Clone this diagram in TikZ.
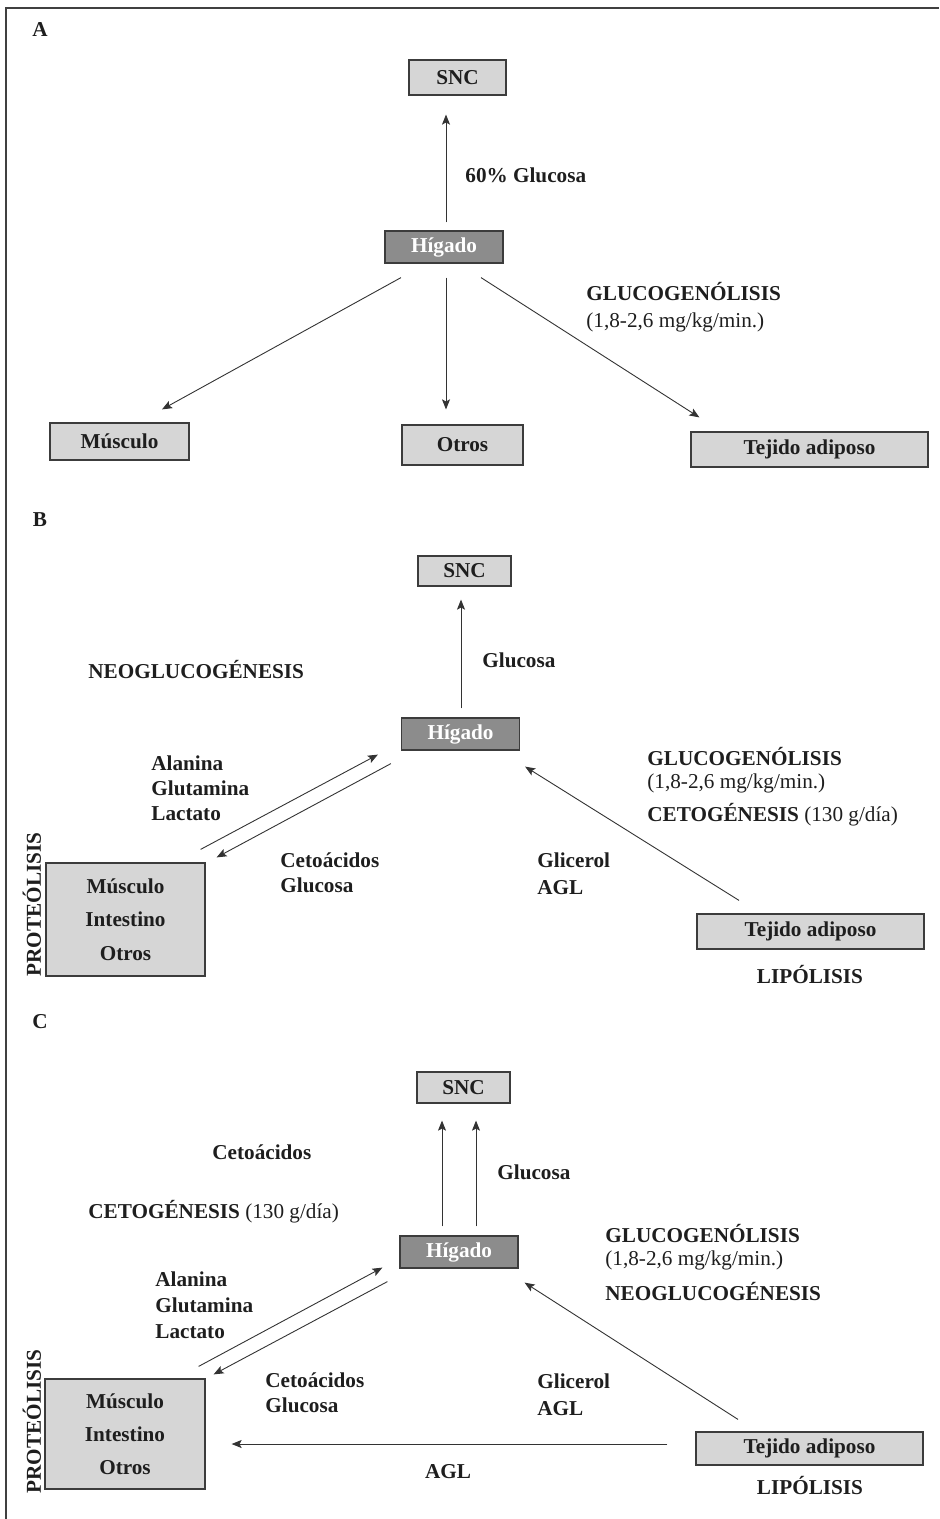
\documentclass[tikz,border=0pt]{standalone}
\usepackage{fontspec}
\setmainfont{Liberation Serif}
\usepackage{tikz}
\usetikzlibrary{calc, arrows.meta, positioning}

\definecolor{boxgray}{HTML}{D6D6D6}
\definecolor{livergray}{HTML}{8C8C8C}
\definecolor{edgegray}{HTML}{3C3C3C}
\definecolor{inkgray}{HTML}{1E1E1E}

\begin{document}
\begin{tikzpicture}[x=0.5pt, y=-0.5pt, font=\fontsize{10.6}{12.5}\selectfont\bfseries, text=inkgray]
% Define styles
\tikzstyle{organ} = [rectangle, draw=edgegray, line width=0.6pt, fill=boxgray, align=center, inner sep=0pt]
\tikzstyle{liver} = [rectangle, draw=edgegray, line width=0.6pt, fill=livergray, text=white, inner sep=0pt, minimum width=59pt, minimum height=16pt]
\tikzstyle{arrow} = [->, >={Stealth[length=5pt,width=4pt,inset=1pt]}, line width=0.45pt, draw=black!80]
\tikzstyle{txt} = [anchor=west, inner sep=0pt, align=left]
\tikzstyle{panel} = [inner sep=0pt]
\useasboundingbox (0,0) rectangle (939,1519);
\draw[line width=1pt, draw=black!75] (6,1519) -- (6,8) -- (939,8);

% Panel A
\node (pA) [panel] at (40,30) {A};
\node (snA) [organ, minimum width=48.5pt, minimum height=17.5pt] at (457.5,77.5) {SNC};
\node (higA) [liver] at (444,247) {Hígado};
\node (musA) [organ, minimum width=69.5pt, minimum height=18.5pt] at (119.5,441.5) {Músculo};
\node (otrA) [organ, minimum width=60.5pt, minimum height=20pt] at (462.5,445) {Otros};
\node (tejA) [organ, minimum width=118.5pt, minimum height=17.5pt] at (809.5,449.5) {Tejido adiposo};
\node (glA) [txt] at (465,175) {60\% Glucosa};
\node (gnA) [txt] at (586,292) {GLUCOGENÓLISIS};
\node (rtA) [txt] at (586,322) {\mdseries (1,8-2,6 mg/kg/min.)};

% Panel B
\node (pB) [panel] at (40,520) {B};
\node (snB) [organ, minimum width=46.5pt, minimum height=15pt] at (464.5,571) {SNC};
\node (higB) [liver] at (460.5,734) {Hígado};
\node (musB) [organ, minimum width=79.5pt, minimum height=56.5pt, font=\fontsize{10.6}{16.75}\selectfont\bfseries] at (125.5,919.5) {Músculo\\Intestino\\Otros};
\node (tejB) [organ, minimum width=113.5pt, minimum height=17.5pt] at (810.5,931.5) {Tejido adiposo};
\node (proB) [panel, rotate=90] at (32,904.5) {PROTEÓLISIS};
\node (neoB) [txt] at (88,670) {NEOGLUCOGÉNESIS};
\node (glB) [txt] at (482,660) {Glucosa};
\node (aaB) [txt] at (151,788) {Alanina\\Glutamina\\Lactato};
\node (ceB) [txt] at (280,872.5) {Cetoácidos\\Glucosa};
\node (giB) [txt, font=\fontsize{10.6}{13.5}\selectfont\bfseries] at (537,873.5) {Glicerol\\AGL};
\node (gnB) [txt] at (647,757) {GLUCOGENÓLISIS};
\node (rtB) [txt] at (647,783) {\mdseries (1,8-2,6 mg/kg/min.)};
\node (ctB) [txt] at (647,815) {CETOGÉNESIS {\mdseries (130 g/día)}};
\node (lipB) [panel] at (810,975) {LIPÓLISIS};

% Panel C
\node (pC) [panel] at (40,1022) {C};
\node (snC) [organ, minimum width=46.5pt, minimum height=15.5pt] at (463.5,1087.5) {SNC};
\node (higC) [liver] at (459,1252) {Hígado};
\node (musC) [organ, minimum width=80pt, minimum height=55pt, font=\fontsize{10.6}{16.5}\selectfont\bfseries] at (125,1434) {Músculo\\Intestino\\Otros};
\node (tejC) [organ, minimum width=113.5pt, minimum height=16.5pt] at (809.5,1448.5) {Tejido adiposo};
\node (proC) [panel, rotate=90] at (32,1421.5) {PROTEÓLISIS};
\node (ketC) [txt] at (212,1152) {Cetoácidos};
\node (glC) [txt] at (497,1172) {Glucosa};
\node (ctC) [txt] at (88,1212) {CETOGÉNESIS {\mdseries (130 g/día)}};
\node (aaC) [txt, font=\fontsize{10.6}{13}\selectfont\bfseries] at (155,1305) {Alanina\\Glutamina\\Lactato};
\node (ceC) [txt] at (265,1392.5) {Cetoácidos\\Glucosa};
\node (giC) [txt, font=\fontsize{10.6}{13.5}\selectfont\bfseries] at (537,1394.5) {Glicerol\\AGL};
\node (agC) [panel] at (448,1472) {AGL};
\node (gnC) [txt] at (605,1233) {GLUCOGENÓLISIS};
\node (rtC) [txt] at (605,1260) {\mdseries (1,8-2,6 mg/kg/min.)};
\node (neoC) [txt] at (605,1291) {NEOGLUCOGÉNESIS};
\node (lipC) [panel] at (810,1485) {LIPÓLISIS};

% Draw arrows
\draw [arrow] ($(higA.north)+(2,-8)$) -- ($(higA.north |- snA.south)+(2,19)$);
\draw [arrow] ($(higA.south)+(-43,14)$) -- ($(musA.north)+(42.5,-13)$);
\draw [arrow] ($(higA.south)+(2,14)$) -- ($(higA.south |- otrA.north)+(2,-15)$);
\draw [arrow] ($(higA.south)+(37,14)$) -- ($(tejA.north west)+(9,-14)$);

\draw [arrow] ($(higB.north)+(0.5,-9)$) -- ($(higB.north |- snB.south)+(0.5,13)$);
\draw [arrow] ($(musB.north east)+(-5,-13)$) -- ($(higB.south west)+(-23,4)$);
\draw [arrow] ($(higB.south west)+(-10,13)$) -- ($(musB.north east)+(11,-5)$);
\draw [arrow] ($(tejB.north)+(-71.5,-13)$) -- ($(higB.south east)+(5,16)$);

\draw [arrow] ($(higC.north)+(-17,-9)$) -- ($(higC.north |- snC.south)+(-17,17)$);
\draw [arrow] ($(higC.north)+(17,-9)$) -- ($(higC.north |- snC.south)+(17,17)$);
\draw [arrow] ($(musC.north east)+(-7,-12)$) -- ($(higC.south west)+(-17,-1)$);
\draw [arrow] ($(higC.south west)+(-12,13)$) -- ($(musC.north east)+(8,-4)$);
\draw [arrow] ($(tejC.west)+(-28,-4.5)$) -- ($(musC.east)+(26,10)$);
\draw [arrow] ($(tejC.north)+(-71.5,-12)$) -- ($(higC.south east)+(6,14)$);
\end{tikzpicture}
\end{document}
